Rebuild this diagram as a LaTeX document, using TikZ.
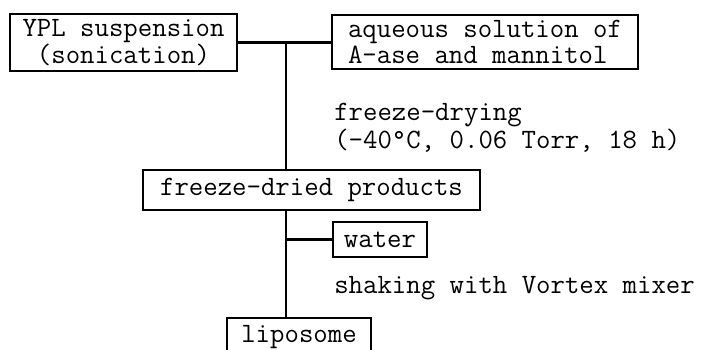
\documentclass[tikz,border=0pt]{standalone}
\usepackage{fontspec}
\tikzset{
    box/.style = {draw, line width=1.3pt, inner sep=0pt, align=center},
    note/.style = {anchor=west, inner sep=0pt, align=left},
}
\begin{document}
\begin{tikzpicture}[x=0.5pt, y=-0.5pt, line width=1.3pt,
    font=\ttfamily\fontsize{14}{11}\selectfont]
    \useasboundingbox (0, 0) rectangle (703, 349);
    % starting materials
    \node[box, minimum width=113.5pt, minimum height=28.5pt] (ypl) at (123.5, 42.5) {YPL suspension\\(sonication)};
    \node[box, align=left, minimum width=153pt, minimum height=27pt] (aq) at (485, 42) {aqueous solution of\\A-ase and mannitol};
    \coordinate (mix) at (286, 42.5);
    \draw (ypl.east) -- (ypl.east -| aq.west);
    % freeze-drying
    \node[note] (fd) at (333, 127.5) {freeze-drying\\(-40°C, 0.06 Torr, 18 h)};
    \node[box, minimum width=168.5pt, minimum height=20pt] (fdp) at (311.5, 190) {freeze-dried products};
    \draw (mix) -- (mix |- fdp.north);
    % water
    \node[box, minimum width=47pt, minimum height=17.5pt] (water) at (380, 239.5) {water};
    \draw (mix |- water.west) -- (water.west);
    \node[note] (shake) at (333, 288) {shaking with Vortex mixer};
    % liposome
    \node[box, minimum width=72pt, minimum height=19pt] (lipo) at (299, 337) {liposome};
    \draw (mix |- fdp.south) -- (mix |- lipo.north);
\end{tikzpicture}
\end{document}
